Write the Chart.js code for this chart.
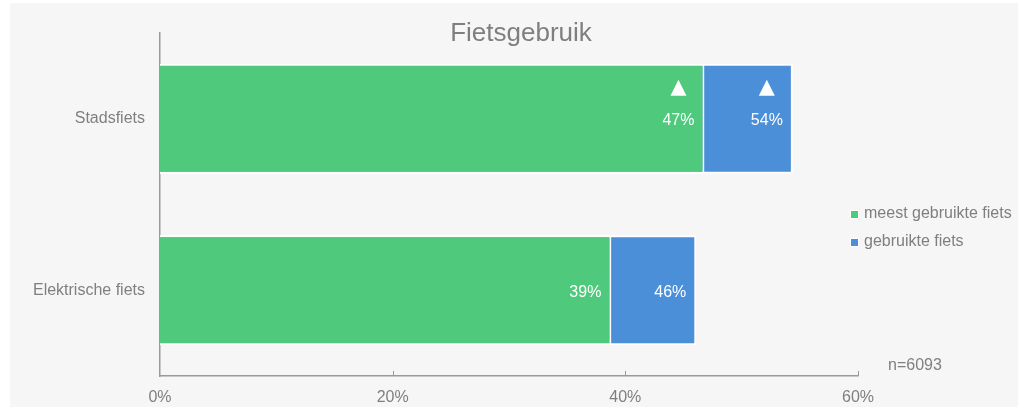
<!DOCTYPE html>
<html>
<head>
<meta charset="utf-8">
<script src="https://cdn.jsdelivr.net/npm/chart.js@4/dist/chart.umd.min.js"></script>
<style>
  html, body { margin: 0; padding: 0; background: #ffffff; }
  #wrap { position: relative; width: 1018px; height: 407px; }
  canvas { display: block; }
</style>
</head>
<body>
<div id="wrap"><canvas id="c" width="1018" height="407"></canvas></div>
<script>
const chartTitle = 'Fietsgebruik';
const categories = ['Stadsfiets', 'Elektrische fiets'];
const seriesNames = ['meest gebruikte fiets', 'gebruikte fiets'];
const meestGebruikt = [46.8, 38.8];
const gebruikt = [54.4, 46.1];
const meestLabels = ['47%', '39%'];
const gebruiktLabels = ['54%', '46%'];
const meestSignificant = [true, false];
const gebruiktSignificant = [true, false];
const xTicks = [0, 20, 40, 60];
const sampleNote = 'n=6093';

const GREEN = '#4fc97b';
const BLUE = '#4b8fd8';
const TEXT = '#7f7f7f';
const FONT = '"Liberation Sans", Arial, sans-serif';

const bgPlugin = {
  id: 'bg',
  beforeDraw(chart) {
    const ctx = chart.ctx;
    ctx.save();
    ctx.fillStyle = '#ffffff';
    ctx.fillRect(0, 0, chart.width, chart.height);
    ctx.fillStyle = '#f6f6f6';
    ctx.fillRect(10, 3, chart.width - 10, chart.height - 3);
    ctx.restore();
  }
};

const decoPlugin = {
  id: 'deco',
  afterDatasetsDraw(chart) {
    const ctx = chart.ctx;
    const xs = chart.scales.x;
    const area = chart.chartArea;
    ctx.save();
    // upward tick marks on x axis
    ctx.strokeStyle = '#9a9a9a';
    ctx.lineWidth = 1;
    xTicks.forEach(v => {
      if (v === 0) return;
      const px = Math.round(xs.getPixelForValue(v)) + 0.5;
      ctx.beginPath();
      ctx.moveTo(px, area.bottom);
      ctx.lineTo(px, area.bottom - 5);
      ctx.stroke();
    });
    // value labels + significance triangles
    const labelSets = [meestLabels, gebruiktLabels];
    const sigSets = [meestSignificant, gebruiktSignificant];
    ctx.font = '16px ' + FONT;
    ctx.fillStyle = '#ffffff';
    ctx.textAlign = 'right';
    ctx.textBaseline = 'middle';
    chart.data.datasets.forEach((ds, di) => {
      const meta = chart.getDatasetMeta(di);
      meta.data.forEach((bar, i) => {
        const right = bar.x - 10;
        const y = bar.y + 2;
        const txt = labelSets[di][i];
        ctx.fillText(txt, right, y);
        if (sigSets[di][i]) {
          const w = ctx.measureText(txt).width;
          const cx = right - w / 2;
          const top = y - 41, bot = y - 25;
          ctx.beginPath();
          ctx.moveTo(cx, top);
          ctx.lineTo(cx + 8, bot);
          ctx.lineTo(cx - 8, bot);
          ctx.closePath();
          ctx.fill();
        }
      });
    });
    // title
    ctx.fillStyle = TEXT;
    ctx.textAlign = 'center';
    ctx.textBaseline = 'alphabetic';
    ctx.font = '26px ' + FONT;
    ctx.fillText(chartTitle, 521, 41);
    // legend
    ctx.font = '16px ' + FONT;
    ctx.textAlign = 'left';
    ctx.textBaseline = 'middle';
    chart.data.datasets.forEach((ds, di) => {
      const y = 214 + di * 28;
      ctx.fillStyle = '#ffffff';
      ctx.fillRect(850, y - 4, 9, 9);
      ctx.fillStyle = ds.backgroundColor;
      ctx.fillRect(851, y - 3, 7, 7);
      ctx.fillStyle = TEXT;
      ctx.fillText(ds.label, 864, y);
    });
    // sample note
    ctx.fillText(sampleNote, 888, 366);
    ctx.restore();
  }
};

new Chart(document.getElementById('c'), {
  type: 'bar',
  data: {
    labels: categories,
    datasets: [
      { label: seriesNames[0], data: meestGebruikt, backgroundColor: GREEN, borderColor: '#ffffff', borderWidth: 2 },
      { label: seriesNames[1], data: gebruikt, backgroundColor: BLUE, borderColor: '#ffffff', borderWidth: 2 }
    ]
  },
  options: {
    indexAxis: 'y',
    responsive: false,
    animation: false,
    devicePixelRatio: 1,
    grouped: false,
    categoryPercentage: 1,
    barPercentage: 0.64,
    layout: { padding: { left: 0, right: 160, top: 33, bottom: 0 } },
    plugins: {
      legend: { display: false },
      title: { display: false },
      tooltip: { enabled: false }
    },
    scales: {
      x: {
        min: 0, max: 60,
        afterBuildTicks(scale) { scale.ticks = xTicks.map(v => ({ value: v })); },
        afterFit(scale) { scale.height = 31; },
        grid: { display: false, drawTicks: false },
        border: { display: true, color: '#9a9a9a', width: 1.5 },
        ticks: {
          padding: 12,
          color: TEXT,
          font: { family: FONT, size: 16 },
          callback: v => v + '%',
          maxRotation: 0
        }
      },
      y: {
        afterFit(scale) { scale.width = 160; },
        grid: { display: false, drawTicks: false },
        border: { display: true, color: '#9a9a9a', width: 1.5 },
        ticks: {
          padding: 15,
          color: TEXT,
          font: { family: FONT, size: 16 }
        }
      }
    }
  },
  plugins: [bgPlugin, decoPlugin]
});
</script>
</body>
</html>
